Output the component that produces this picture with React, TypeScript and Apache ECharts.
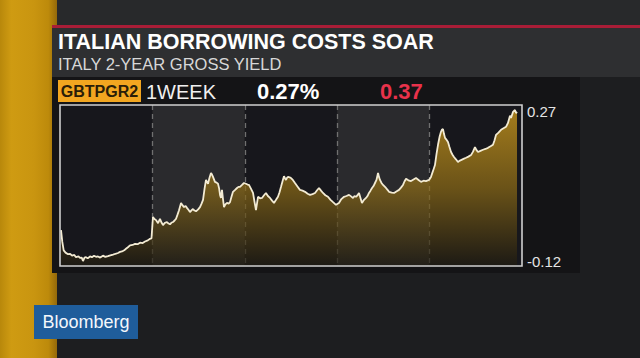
import React, { useEffect, useRef } from "react";
import * as echarts from "echarts";

const TITLE = "ITALIAN BORROWING COSTS SOAR";
const SUBTITLE = "ITALY 2-YEAR GROSS YIELD";
const TICKER = "GBTPGR2";
const PERIOD = "1WEEK";
const LAST_VALUE = "0.27%";
const CHANGE = "0.37";
const BRAND = "Bloomberg";

const DAY_COUNT = 5;
const Y_TICKS = [0.27, -0.12];

// time position in trading days (0..5) and 2-year yield (%)
const DAY_POS = [
  0.011, 0.025, 0.04, 0.06, 0.087, 0.11, 0.13, 0.155, 0.173, 0.2, 0.216, 0.235, 0.249, 0.265, 0.281, 0.3,
  0.325, 0.345, 0.368, 0.39, 0.411, 0.435, 0.465, 0.49, 0.519, 0.545, 0.574, 0.6, 0.628, 0.65, 0.671, 0.695,
  0.714, 0.735, 0.758, 0.785, 0.812, 0.84, 0.866, 0.895, 0.92, 0.95, 0.974, 0.99,
  1.006, 1.022, 1.039, 1.061, 1.082, 1.1, 1.115, 1.135, 1.158, 1.175, 1.19, 1.205, 1.223, 1.24, 1.255, 1.27,
  1.288, 1.31, 1.325, 1.342, 1.36, 1.374, 1.39, 1.407, 1.425, 1.439, 1.455, 1.472, 1.495, 1.515, 1.532, 1.548,
  1.565, 1.58, 1.592, 1.602, 1.618, 1.634, 1.645, 1.656, 1.677, 1.695, 1.71, 1.722, 1.732, 1.742, 1.753, 1.765,
  1.775, 1.79, 1.807, 1.825, 1.84, 1.856, 1.872, 1.895, 1.916, 1.932, 1.948, 1.97, 1.991,
  2.013, 2.03, 2.045, 2.065, 2.089, 2.105, 2.121, 2.143, 2.165, 2.186, 2.208, 2.229, 2.25, 2.273, 2.295, 2.316,
  2.338, 2.359, 2.376, 2.392, 2.41, 2.424, 2.436, 2.446, 2.458, 2.468, 2.485, 2.5, 2.52, 2.543, 2.57, 2.597,
  2.625, 2.652, 2.68, 2.706, 2.733, 2.76, 2.782, 2.803, 2.825, 2.846, 2.872, 2.9, 2.928, 2.955, 2.987,
  3.019, 3.045, 3.074, 3.1, 3.128, 3.15, 3.171, 3.187, 3.203, 3.22, 3.236, 3.252, 3.268, 3.29, 3.312, 3.328,
  3.344, 3.36, 3.377, 3.393, 3.409, 3.425, 3.442, 3.452, 3.463, 3.48, 3.496, 3.512, 3.528, 3.545, 3.561, 3.59,
  3.615, 3.64, 3.669, 3.69, 3.712, 3.728, 3.745, 3.77, 3.799, 3.826, 3.853, 3.88, 3.907, 3.935, 3.961, 3.994,
  4.015, 4.036, 4.058, 4.075, 4.091, 4.108, 4.123, 4.135, 4.145, 4.156, 4.167, 4.183, 4.199, 4.215, 4.232, 4.248,
  4.264, 4.285, 4.307, 4.322, 4.34, 4.367, 4.394, 4.42, 4.448, 4.47, 4.491, 4.508, 4.524, 4.55, 4.578, 4.605,
  4.632, 4.66, 4.686, 4.703, 4.719, 4.745, 4.773, 4.8, 4.827, 4.848, 4.87, 4.881, 4.903, 4.924, 4.935, 4.946,
];
const YIELD = [
  -0.039, -0.07, -0.092, -0.098, -0.102, -0.101, -0.106, -0.104, -0.11, -0.108, -0.112, -0.111, -0.12, -0.111, -0.11, -0.113,
  -0.108, -0.11, -0.106, -0.109, -0.108, -0.111, -0.106, -0.109, -0.107, -0.105, -0.103, -0.101, -0.099, -0.096, -0.095, -0.092,
  -0.088, -0.084, -0.079, -0.078, -0.075, -0.076, -0.072, -0.073, -0.069, -0.066, -0.062, -0.061,
  -0.005, -0.01, -0.013, -0.021, -0.01, -0.02, -0.026, -0.02, -0.018, -0.022, -0.024, -0.02, -0.018, -0.014, -0.01, 0.0,
  0.013, 0.032, 0.026, 0.021, 0.024, 0.019, 0.014, 0.008, 0.013, 0.016, 0.012, 0.01, 0.015, 0.021, 0.03, 0.04,
  0.07, 0.092, 0.086, 0.082, 0.098, 0.11, 0.106, 0.1, 0.087, 0.085, 0.082, 0.07, 0.053, 0.045, 0.066, 0.04,
  0.021, 0.028, 0.032, 0.03, 0.034, 0.048, 0.061, 0.066, 0.071, 0.074, 0.074, 0.079, 0.084,
  0.082, 0.08, 0.079, 0.07, 0.058, 0.035, 0.013, 0.048, 0.044, 0.045, 0.052, 0.058, 0.05, 0.045, 0.038, 0.032,
  0.04, 0.048, 0.06, 0.074, 0.09, 0.102, 0.096, 0.092, 0.098, 0.1, 0.099, 0.097, 0.092, 0.084, 0.075, 0.066,
  0.064, 0.061, 0.056, 0.053, 0.055, 0.058, 0.065, 0.071, 0.064, 0.058, 0.052, 0.048, 0.04, 0.034, 0.027,
  0.032, 0.042, 0.048, 0.05, 0.053, 0.049, 0.045, 0.05, 0.048, 0.052, 0.058, 0.045, 0.032, 0.04, 0.045, 0.05,
  0.058, 0.064, 0.071, 0.076, 0.084, 0.092, 0.11, 0.1, 0.092, 0.084, 0.079, 0.075, 0.071, 0.066, 0.061, 0.059,
  0.058, 0.062, 0.066, 0.072, 0.079, 0.088, 0.095, 0.091, 0.089, 0.093, 0.097, 0.092, 0.087, 0.09, 0.089, 0.092,
  0.1, 0.115, 0.131, 0.16, 0.184, 0.205, 0.218, 0.224, 0.225, 0.212, 0.202, 0.197, 0.191, 0.178, 0.165, 0.158,
  0.152, 0.146, 0.139, 0.142, 0.144, 0.147, 0.15, 0.153, 0.157, 0.166, 0.178, 0.17, 0.165, 0.168, 0.171, 0.173,
  0.176, 0.18, 0.184, 0.196, 0.21, 0.216, 0.223, 0.227, 0.231, 0.241, 0.26, 0.254, 0.27, 0.275, 0.267, 0.27,
];

const FONT = "'Liberation Sans', Arial, Helvetica, sans-serif";

function buildOption(): echarts.EChartsOption {
  const data = DAY_POS.map((t, i) => [t, YIELD[i]]);
  const text = (x: number, y: number, str: string, size: number, fill: string, weight: string = "normal", align: string = "left") => ({
    type: "text",
    z: 20,
    x,
    y,
    style: {
      text: str,
      fill,
      fontSize: size,
      fontWeight: weight,
      fontFamily: FONT,
      align,
      verticalAlign: "middle",
    },
  });
  return {
    animation: false,
    backgroundColor: "#1d1e20",
    grid: {
      left: 60,
      right: 118,
      top: 105,
      bottom: 92,
      show: true,
      borderColor: "#cfcfcf",
      borderWidth: 1.6,
      backgroundColor: "transparent",
      z: 5,
    },
    xAxis: {
      type: "value",
      min: 0,
      max: DAY_COUNT,
      interval: 1,
      axisLine: { show: false },
      axisTick: { show: false },
      axisLabel: { show: false },
      splitLine: {
        show: true,
        showMinLine: false,
        showMaxLine: false,
        lineStyle: { color: "#707070", width: 1.3, type: [5, 4] },
      },
      splitArea: { show: true, areaStyle: { color: ["#17171c", "#2a2a2d"] } },
    },
    yAxis: {
      type: "value",
      position: "right",
      min: -0.133,
      max: 0.288,
      axisLine: { show: false },
      axisTick: { show: false },
      splitLine: { show: false },
      axisLabel: {
        customValues: Y_TICKS,
        formatter: (v: number) => v.toFixed(2),
        color: "#e4e4e4",
        fontSize: 15,
        fontFamily: FONT,
        margin: 5,
      },
    },
    series: [
      {
        type: "line",
        data,
        showSymbol: false,
        smooth: false,
        z: 3,
        lineStyle: { color: "#f3ebd3", width: 1.8 },
        areaStyle: {
          origin: "start",
          color: new echarts.graphic.LinearGradient(0, 0, 0, 1, [
            { offset: 0, color: "#dfa71d" },
            { offset: 0.5, color: "#8e6c16" },
            { offset: 1, color: "#1f1b11" },
          ]),
        },
      },
    ],
    graphic: [
      // top strip
      { type: "rect", z: -20, shape: { x: 0, y: 0, width: 640, height: 27 }, style: { fill: "#28292b" } },
      // left gold band
      {
        type: "rect",
        z: -19,
        shape: { x: 0, y: 0, width: 57, height: 358 },
        style: {
          fill: new echarts.graphic.LinearGradient(0, 0, 1, 0, [
            { offset: 0, color: "#b8880b" },
            { offset: 0.2, color: "#cf9b12" },
            { offset: 0.6, color: "#c99510" },
            { offset: 0.85, color: "#bd8a0b" },
            { offset: 1, color: "#94690a" },
          ]),
        },
      },
      // red rule
      { type: "rect", z: -18, shape: { x: 52, y: 25, width: 588, height: 3 }, style: { fill: "#a91d37" } },
      // header panel
      { type: "rect", z: -18, shape: { x: 52, y: 28, width: 588, height: 49 }, style: { fill: "#2e2f31" } },
      // chart panel
      { type: "rect", z: -18, shape: { x: 52, y: 77, width: 528, height: 196 }, style: { fill: "#141416" } },
      // ticker box
      { type: "rect", z: 10, shape: { x: 58, y: 80, width: 83, height: 22 }, style: { fill: "#f2a620" } },
      text(58, 42, TITLE, 21.5, "#ffffff", "bold"),
      text(58, 64, SUBTITLE, 16.5, "#d8d8d8"),
      text(99.5, 91.5, TICKER, 16, "#2a1e08", "bold", "center"),
      text(146, 91.5, PERIOD, 20, "#f0f0f0"),
      text(257, 91.5, LAST_VALUE, 22, "#ffffff", "bold"),
      text(380, 91.5, CHANGE, 22, "#e8324b", "bold"),
      // brand box
      { type: "rect", z: 10, shape: { x: 34, y: 305, width: 104, height: 34 }, style: { fill: "#1f5d9b" } },
      text(86, 322, BRAND, 18, "#f4f7fb", "normal", "center"),
    ],
  } as echarts.EChartsOption;
}

export default function App() {
  const ref = useRef<HTMLDivElement>(null);
  useEffect(() => {
    if (!ref.current) return;
    const chart = echarts.init(ref.current, null, { renderer: "svg", width: 640, height: 358 });
    chart.setOption(buildOption());
    return () => chart.dispose();
  }, []);
  return <div ref={ref} style={{ position: "fixed", left: 0, top: 0, width: 640, height: 358 }} />;
}
